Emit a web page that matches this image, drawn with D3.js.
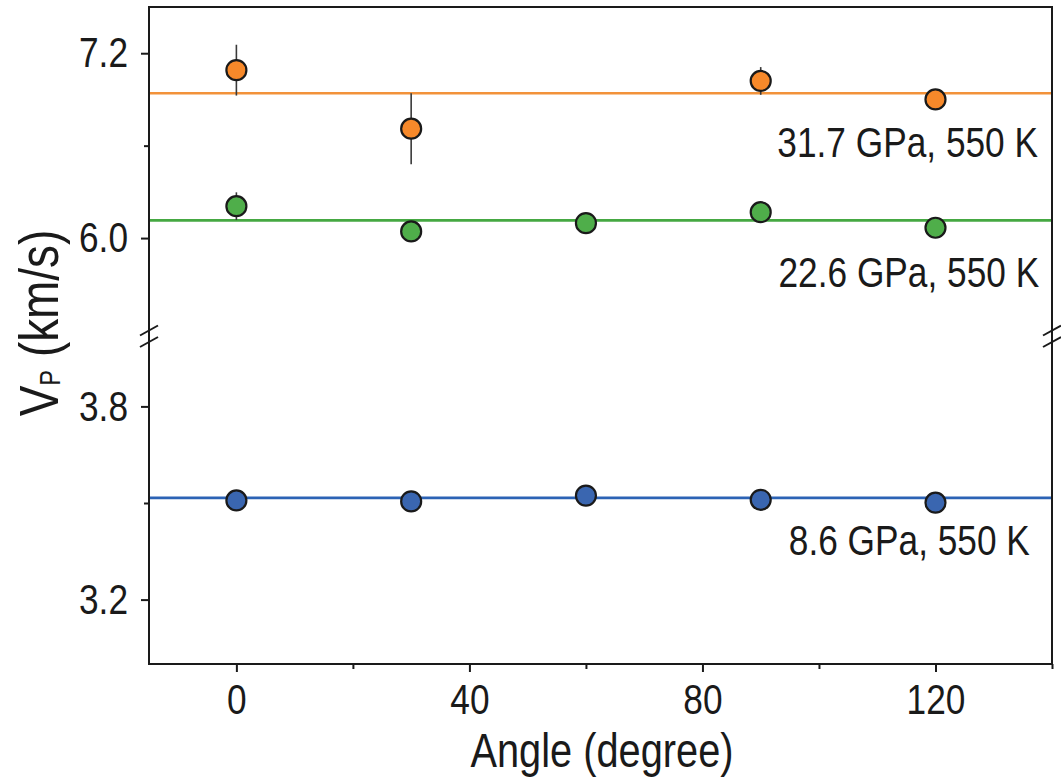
<!DOCTYPE html>
<html>
<head>
<meta charset="utf-8">
<script src="https://cdn.jsdelivr.net/npm/d3@7/dist/d3.min.js"></script>
<style>
  body { margin: 0; background: #fff; }
  text { font-family: "Liberation Sans", Arial, Helvetica, sans-serif; fill: #1a1a1a; }
</style>
</head>
<body>
<svg id="chart" width="1061" height="782"></svg>
<script>
// Measurement angles (degree)
const angles = [0, 30, 60, 90, 120];

// P-wave velocity (km/s) at 550 K for three pressures
const vp8_6 = [3.508, 3.505, 3.523, 3.510, 3.501];
const err8_6 = [0.01, 0.01, 0.01, 0.01, 0.01];
const fit8_6 = 3.516;

const vp22_6 = [6.207, 6.043, 6.097, 6.168, 6.067];
const err22_6 = [0.09, 0.03, 0.03, 0.04, 0.03];
const fit22_6 = 6.115;

const vp31_7 = [7.09, 6.71, null, 7.02, 6.90];
const err31_7 = [0.165, 0.23, null, 0.09, 0.05];
const fit31_7 = 6.94;

const seriesLabels = ["8.6 GPa, 550 K", "22.6 GPa, 550 K", "31.7 GPa, 550 K"];

const xTicks = [0, 40, 80, 120];
const xMinorTicks = [20, 60, 100, 140];
const yUpperTicks = [6.0, 7.2];
const yUpperMinor = [6.6];
const yLowerTicks = [3.2, 3.8];
const yLowerMinor = [3.5];

// ---- layout ----
const svg = d3.select("#chart");
const mLeft = 149, mRight = 1052, mTop = 7, mBottom = 664;
const breakTop = 330.5, breakBottom = 342;
const narrow = 0.82;   // horizontal squeeze giving a condensed sans face

const x = d3.scaleLinear().domain([-15, 140]).range([mLeft, mRight]);
const yUp = d3.scaleLinear().domain([5.4, 7.5]).range([breakTop, mTop]);
const yLo = d3.scaleLinear().domain([3.0, 4.0]).range([mBottom, breakBottom]);

const series = [
  { vals: vp31_7, errs: err31_7, fit: fit31_7, y: yUp, fill: "#f7892a", line: "#f2923a",
    label: seriesLabels[2], lx: 137.6, ly: 6.528 },
  { vals: vp22_6, errs: err22_6, fit: fit22_6, y: yUp, fill: "#4fae4a", line: "#45a842",
    label: seriesLabels[1], lx: 137.8, ly: 5.684 },
  { vals: vp8_6, errs: err8_6, fit: fit8_6, y: yLo, fill: "#3a66b0", line: "#2c63b5",
    label: seriesLabels[0], lx: 136.2, ly: 3.3385 }
];

const font = 43;

// fitted (mean) velocity lines
series.forEach(s => {
  svg.append("line")
    .attr("x1", mLeft).attr("x2", mRight)
    .attr("y1", s.y(s.fit)).attr("y2", s.y(s.fit))
    .attr("stroke", s.line).attr("stroke-width", 2.6);
});

// error bars, markers and series labels
series.forEach(s => {
  const pts = angles.map((a, i) => ({ a, v: s.vals[i], e: s.errs[i] })).filter(d => d.v != null);
  svg.append("g").selectAll("line").data(pts).join("line")
    .attr("x1", d => x(d.a)).attr("x2", d => x(d.a))
    .attr("y1", d => s.y(d.v + d.e)).attr("y2", d => s.y(d.v - d.e))
    .attr("stroke", "#3a3a3a").attr("stroke-width", 1.6);
  svg.append("g").selectAll("circle").data(pts).join("circle")
    .attr("cx", d => x(d.a)).attr("cy", d => s.y(d.v))
    .attr("r", 10)
    .attr("fill", s.fill).attr("stroke", "#1a1a1a").attr("stroke-width", 2.2);
  svg.append("text")
    .attr("transform", `translate(${x(s.lx)},${s.y(s.ly)}) scale(${narrow},1)`)
    .attr("text-anchor", "end")
    .attr("font-size", font)
    .text(s.label);
});

// frame
svg.append("rect")
  .attr("x", mLeft).attr("y", mTop)
  .attr("width", mRight - mLeft).attr("height", mBottom - mTop)
  .attr("fill", "none").attr("stroke", "#1a1a1a").attr("stroke-width", 2);

// axes: tick text keeps its position but is squeezed horizontally
function styleAxis(g) {
  g.select(".domain").remove();
  g.selectAll(".tick line").attr("stroke", "#1a1a1a").attr("stroke-width", 2);
  g.selectAll(".tick text").each(function () {
    const t = d3.select(this);
    const tx = +t.attr("x") || 0, ty = +t.attr("y") || 0;
    t.attr("x", null).attr("y", null)
      .attr("font-size", font).attr("fill", "#1a1a1a")
      .attr("transform", `translate(${tx},${ty}) scale(${narrow},1)`);
  });
}

svg.append("g").attr("transform", `translate(${mLeft},0)`)
  .call(d3.axisLeft(yUp).tickValues(yUpperTicks).tickFormat(d3.format(".1f")).tickSize(8).tickPadding(13))
  .call(styleAxis);
svg.append("g").attr("transform", `translate(${mLeft},0)`)
  .call(d3.axisLeft(yUp).tickValues(yUpperMinor).tickFormat("").tickSize(5))
  .call(styleAxis);
svg.append("g").attr("transform", `translate(${mLeft},0)`)
  .call(d3.axisLeft(yLo).tickValues(yLowerTicks).tickFormat(d3.format(".1f")).tickSize(8).tickPadding(13))
  .call(styleAxis);
svg.append("g").attr("transform", `translate(${mLeft},0)`)
  .call(d3.axisLeft(yLo).tickValues(yLowerMinor).tickFormat("").tickSize(5))
  .call(styleAxis);

svg.append("g").attr("transform", `translate(0,${mBottom})`)
  .call(d3.axisBottom(x).tickValues(xTicks).tickFormat(d3.format("d")).tickSize(8).tickPadding(11.5))
  .call(styleAxis);
svg.append("g").attr("transform", `translate(0,${mBottom})`)
  .call(d3.axisBottom(x).tickValues(xMinorTicks).tickFormat("").tickSize(5))
  .call(styleAxis);

// axis break marks on both vertical edges
[mLeft, mRight].forEach(ax => {
  [breakTop, breakBottom].forEach(by => {
    svg.append("line")
      .attr("x1", ax - 9).attr("y1", by + 5)
      .attr("x2", ax + 9).attr("y2", by - 5)
      .attr("stroke", "#1a1a1a").attr("stroke-width", 2);
  });
});

// axis titles
svg.append("text")
  .attr("transform", `translate(602,767) scale(${narrow},1)`)
  .attr("text-anchor", "middle")
  .attr("font-size", 48.5)
  .text("Angle (degree)");

const yt = svg.append("text")
  .attr("transform", `translate(58,323) rotate(-90) scale(${narrow},1)`)
  .attr("text-anchor", "middle")
  .attr("font-size", 56);
yt.append("tspan").text("V");
yt.append("tspan").attr("font-size", 29).attr("dy", 2).text("P");
yt.append("tspan").attr("dy", -2).text(" (km/s)");
</script>
</body>
</html>
